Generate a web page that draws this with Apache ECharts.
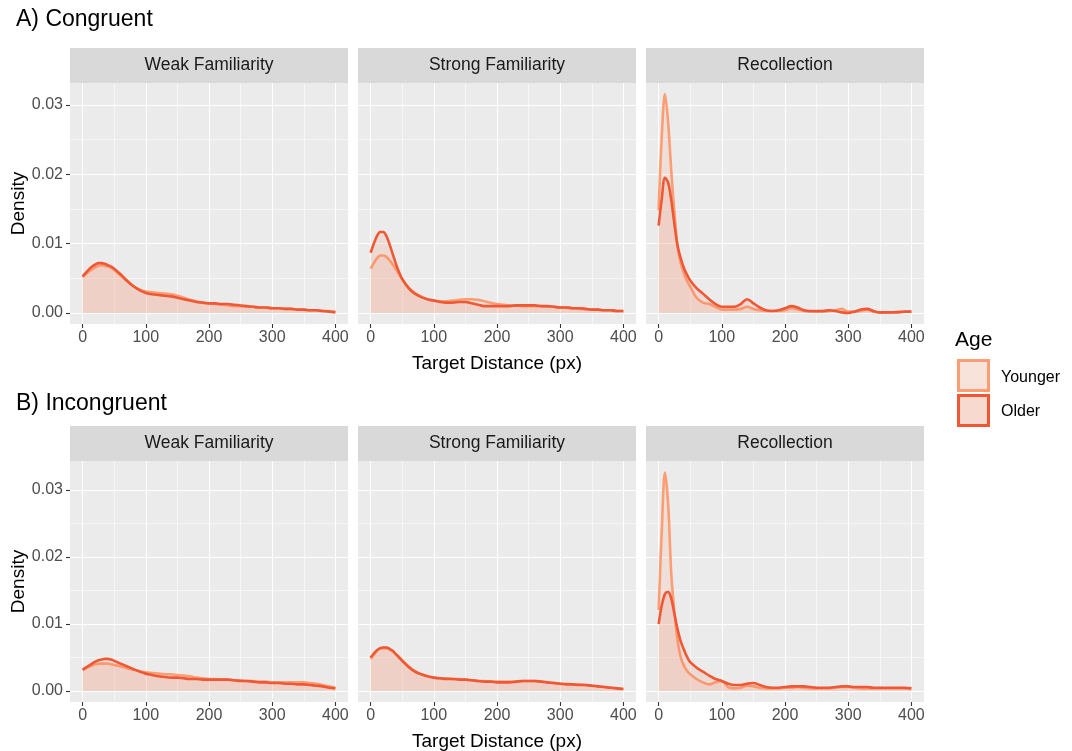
<!DOCTYPE html>
<html><head><meta charset="utf-8">
<script src="https://cdn.jsdelivr.net/npm/echarts@6/dist/echarts.min.js"></script>
<style>html,body{margin:0;padding:0;background:#fff}#c{width:1072px;height:751px}</style>
</head><body><div id="c"></div>
<script>
// ---------- data ----------
const rowTitles = ['A) Congruent', 'B) Incongruent'];
const facets = ['Weak Familiarity', 'Strong Familiarity', 'Recollection'];
const groups = ['Younger', 'Older'];
const xTicks = [0, 100, 200, 300, 400];
const xMinor = [50, 150, 250, 350];
const yTicks = [0, 0.01, 0.02, 0.03];
const yMinor = [0.005, 0.015, 0.025];
const xs = [0,5,10,15,20,25,30,35,40,45,50,60,70,80,90,100,110,120,130,140,150,160,170,180,190,200,210,220,230,240,250,260,270,280,290,300,310,320,330,340,350,360,370,380,390,400];

// A) Congruent
const congWeakYounger = [.0052,.0056,.0060,.0063,.0066,.0068,.0069,.0068,.0067,.0065,.0062,.0054,.0046,.0039,.0034,.0031,.0030,.0029,.0028,.0027,.0025,.0022,.0019,.0017,.0015,.0014,.0013,.0012,.0011,.0010,.0010,.0009,.0009,.0008,.0008,.0007,.0007,.0006,.0006,.0005,.0005,.0004,.0004,.0003,.0003,.0002];
const congWeakOlder   = [.0053,.0058,.0063,.0067,.0070,.0072,.0072,.0071,.0069,.0067,.0064,.0056,.0047,.0039,.0033,.0029,.0027,.0026,.0025,.0024,.0022,.0020,.0018,.0016,.0015,.0014,.0014,.0013,.0013,.0012,.0011,.0010,.0009,.0008,.0008,.0007,.0007,.0006,.0006,.0005,.0005,.0004,.0004,.0003,.0002,.0001];
const congStrongYounger = [.0064,.0072,.0079,.0083,.0083,.0081,.0076,.0070,.0063,.0056,.0049,.0037,.0029,.0024,.0020,.0018,.0017,.0017,.0018,.0019,.0020,.0020,.0019,.0017,.0015,.0013,.0012,.0011,.0011,.0010,.0010,.0010,.0010,.0009,.0009,.0008,.0008,.0007,.0006,.0006,.0005,.0005,.0004,.0004,.0003,.0003];
const congStrongOlder   = [.0087,.0100,.0111,.0117,.0117,.0111,.0099,.0085,.0071,.0059,.0049,.0036,.0028,.0023,.0020,.0018,.0016,.0015,.0015,.0016,.0016,.0014,.0012,.0010,.0010,.0010,.0010,.0010,.0011,.0011,.0011,.0011,.0010,.0010,.0009,.0008,.0008,.0007,.0007,.0006,.0005,.0005,.0004,.0004,.0003,.0003];
const congRecYounger = [.0148,.0255,.0316,.0275,.0205,.0145,.0095,.0072,.0057,.0046,.0038,.0022,.0015,.0013,.0009,.0005,.0005,.0005,.0006,.0009,.0006,.0004,.0003,.0003,.0003,.0004,.0007,.0005,.0003,.0002,.0002,.0002,.0003,.0004,.0006,.0002,.0002,.0003,.0005,.0002,.0001,.0001,.0001,.0002,.0002,.0002];
const congRecOlder   = [.0126,.0165,.0195,.0188,.0163,.0128,.0097,.0079,.0065,.0055,.0047,.0036,.0028,.0020,.0013,.0009,.0009,.0009,.0013,.0020,.0014,.0008,.0004,.0003,.0004,.0007,.0010,.0008,.0004,.0003,.0003,.0003,.0004,.0003,.0001,.0000,.0002,.0005,.0006,.0003,.0001,.0001,.0001,.0001,.0002,.0002];

// B) Incongruent
const incWeakYounger = [.0031,.0034,.0036,.0038,.0040,.0041,.0041,.0041,.0041,.0040,.0039,.0037,.0034,.0032,.0030,.0028,.0027,.0026,.0025,.0025,.0024,.0023,.0022,.0020,.0019,.0018,.0018,.0017,.0017,.0016,.0016,.0015,.0015,.0014,.0014,.0013,.0013,.0013,.0013,.0013,.0013,.0012,.0011,.0009,.0007,.0005];
const incWeakOlder   = [.0032,.0035,.0038,.0041,.0044,.0046,.0047,.0048,.0048,.0047,.0045,.0041,.0037,.0033,.0029,.0026,.0024,.0022,.0021,.0020,.0020,.0019,.0018,.0018,.0017,.0017,.0017,.0017,.0017,.0016,.0015,.0015,.0014,.0013,.0013,.0012,.0012,.0011,.0011,.0010,.0010,.0009,.0008,.0007,.0005,.0004];
const incStrongYounger = [.0048,.0054,.0060,.0063,.0064,.0064,.0062,.0059,.0055,.0051,.0046,.0037,.0030,.0025,.0022,.0020,.0019,.0019,.0018,.0018,.0017,.0016,.0015,.0015,.0014,.0014,.0014,.0014,.0014,.0015,.0015,.0015,.0014,.0013,.0012,.0011,.0011,.0010,.0010,.0009,.0008,.0007,.0006,.0005,.0004,.0003];
const incStrongOlder   = [.0050,.0056,.0061,.0064,.0065,.0065,.0063,.0060,.0055,.0050,.0045,.0036,.0029,.0025,.0022,.0020,.0019,.0018,.0018,.0017,.0017,.0016,.0015,.0014,.0014,.0013,.0013,.0013,.0014,.0015,.0015,.0015,.0014,.0013,.0012,.0011,.0010,.0010,.0009,.0009,.0008,.0007,.0006,.0005,.0004,.0003];
const incRecYounger = [.0121,.0240,.0326,.0280,.0175,.0118,.0075,.0050,.0038,.0030,.0025,.0018,.0013,.0010,.0013,.0015,.0006,.0004,.0005,.0008,.0007,.0005,.0004,.0004,.0004,.0005,.0005,.0006,.0005,.0004,.0004,.0004,.0004,.0005,.0006,.0006,.0005,.0004,.0004,.0004,.0004,.0004,.0004,.0004,.0004,.0003];
const incRecOlder   = [.0100,.0128,.0145,.0148,.0138,.0115,.0092,.0074,.0062,.0051,.0043,.0035,.0029,.0023,.0018,.0015,.0011,.0009,.0009,.0011,.0012,.0009,.0006,.0005,.0005,.0006,.0007,.0007,.0007,.0006,.0005,.0005,.0005,.0006,.0007,.0007,.0006,.0006,.0006,.0005,.0005,.0005,.0005,.0005,.0005,.0004];

const panels = [
  [[congWeakYounger, congWeakOlder], [congStrongYounger, congStrongOlder], [congRecYounger, congRecOlder]],
  [[incWeakYounger, incWeakOlder], [incStrongYounger, incStrongOlder], [incRecYounger, incRecOlder]]
];

// ---------- layout / style ----------
const FONT = '"Liberation Sans", Arial, sans-serif';
const lineColors = ['#FC9D74', '#EE5834'];
const fillColors = ['rgba(255,160,125,0.23)', 'rgba(245,130,100,0.23)'];
const keyFills = ['#F7E3D9', '#F8D9D0'];
const panelLeft = [70, 358, 646];
const panelW = 278;
const rowTop = [83, 461];
const panelH = 241;
const stripH = 35;
const yLimits = [[-0.00158, 0.03318], [-0.001635, 0.034335]];

const grid = [], xAxis = [], yAxis = [], series = [], graphic = [];

for (let r = 0; r < 2; r++) {
  for (let c = 0; c < 3; c++) {
    const g = grid.length;
    grid.push({left: panelLeft[c], top: rowTop[r], width: panelW, height: panelH,
      show: true, backgroundColor: '#EBEBEB', borderWidth: 0, containLabel: false,
      outerBoundsMode: 'none'});
    // main x axis
    xAxis.push({
      type: 'value', gridIndex: g, min: -20, max: 420, position: 'bottom',
      axisLine: {show: false, onZero: false},
      axisTick: {show: true, length: 4, lineStyle: {color: '#333333', width: 1.1}, customValues: xTicks},
      axisLabel: {show: true, customValues: xTicks, color: '#4D4D4D', fontSize: 16, fontFamily: FONT, margin: 6,
        formatter: v => String(v)},
      splitLine: {show: true, lineStyle: {color: '#FFFFFF', width: 1.1}},
      name: c === 1 ? 'Target Distance (px)' : '',
      nameLocation: 'middle', nameGap: 30, nameMoveOverlap: false,
      nameTextStyle: {color: '#000000', fontSize: 19, fontFamily: FONT}
    });
    // minor x axis (grid lines only)
    xAxis.push({
      type: 'value', gridIndex: g, min: -20, max: 420, position: 'top',
      axisLine: {show: false, onZero: false}, axisLabel: {show: false},
      axisTick: {show: false, customValues: xMinor},
      splitLine: {show: true, lineStyle: {color: '#FFFFFF', width: 0.55}}
    });
    // main y axis
    yAxis.push({
      type: 'value', gridIndex: g, min: yLimits[r][0], max: yLimits[r][1], position: 'left',
      axisLine: {show: false, onZero: false},
      axisTick: {show: c === 0, length: 4, lineStyle: {color: '#333333', width: 1.1}, customValues: yTicks},
      axisLabel: {show: c === 0, customValues: yTicks, color: '#4D4D4D', fontSize: 16, fontFamily: FONT, margin: 7,
        formatter: v => v.toFixed(2)},
      splitLine: {show: true, lineStyle: {color: '#FFFFFF', width: 1.1}},
      name: c === 0 ? 'Density' : '',
      nameLocation: 'middle', nameGap: 42, nameMoveOverlap: false,
      nameTextStyle: {color: '#000000', fontSize: 19, fontFamily: FONT}
    });
    // minor y axis
    yAxis.push({
      type: 'value', gridIndex: g, min: yLimits[r][0], max: yLimits[r][1], position: 'right',
      axisLine: {show: false, onZero: false}, axisLabel: {show: false},
      axisTick: {show: false, customValues: yMinor},
      splitLine: {show: true, lineStyle: {color: '#FFFFFF', width: 0.55}}
    });
    for (let k = 0; k < 2; k++) {
      const vals = panels[r][c][k];
      series.push({
        type: 'line', name: groups[k], xAxisIndex: 2 * g, yAxisIndex: 2 * g,
        data: xs.map((x, i) => [x, vals[i]]),
        showSymbol: false, symbol: 'none', smooth: 0.35,
        lineStyle: {color: lineColors[k], width: 2.6},
        itemStyle: {color: lineColors[k]},
        areaStyle: {color: fillColors[k], origin: 'auto'},
        z: 2 + k, silent: true, animation: false
      });
    }
    // strip
    graphic.push({type: 'rect', left: panelLeft[c], top: rowTop[r] - stripH,
      shape: {width: panelW, height: stripH}, style: {fill: '#D9D9D9'}, silent: true});
    graphic.push({type: 'text', x: panelLeft[c] + panelW / 2, y: rowTop[r] - stripH / 2,
      style: {text: facets[c], fill: '#1A1A1A', font: '17.5px ' + FONT, textAlign: 'center', textVerticalAlign: 'middle'}, silent: true});
  }
  graphic.push({type: 'text', x: 16, y: r === 0 ? 20 : 404,
    style: {text: rowTitles[r], fill: '#000000', font: '23px ' + FONT, textAlign: 'left', textVerticalAlign: 'middle'}});
}

// legend
graphic.push({type: 'text', x: 955, y: 340, style: {text: 'Age', fill: '#000000', font: '21px ' + FONT, textAlign: 'left', textVerticalAlign: 'middle'}});
for (let k = 0; k < 2; k++) {
  const top = 359 + k * 35;
  graphic.push({type: 'rect', shape: {x: 958.5, y: top + 1.5, width: 30, height: 30},
    style: {fill: keyFills[k], stroke: lineColors[k], lineWidth: 3}});
  graphic.push({type: 'text', x: 1001, y: top + 19 - k, style: {text: groups[k], fill: '#000000', font: '16px ' + FONT, textAlign: 'left', textVerticalAlign: 'middle'}});
}

const chart = echarts.init(document.getElementById('c'), null, {renderer: 'canvas'});
chart.setOption({
  backgroundColor: '#FFFFFF',
  animation: false,
  textStyle: {fontFamily: FONT},
  grid, xAxis, yAxis, series, graphic
});
</script>
</body></html>
